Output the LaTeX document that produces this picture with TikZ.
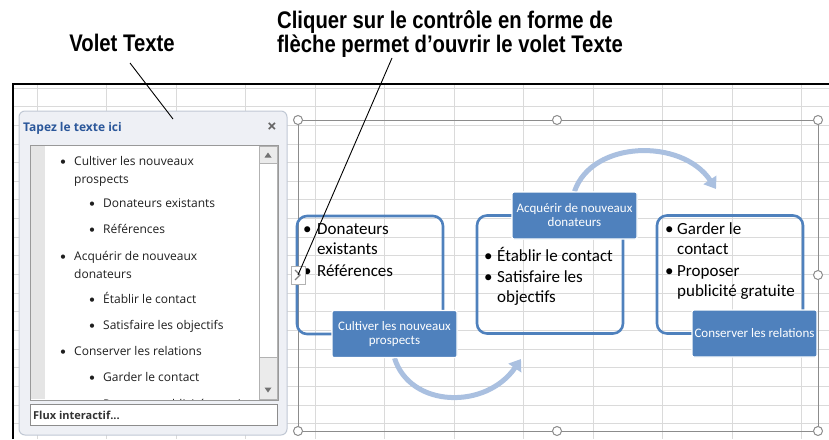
\documentclass[tikz,border=0pt]{standalone}
\usepackage{fontspec}
\setmainfont{Carlito}
\newfontfamily\panefont{Open Sans}
\newfontfamily\callfont[FakeStretch=0.845]{Liberation Sans Bold}
\usetikzlibrary{arrows.meta}
\definecolor{smartblue}{RGB}{79,129,189}
\definecolor{arrowblue}{RGB}{170,192,224}
\definecolor{gridgray}{RGB}{218,218,218}
\definecolor{panebg}{RGB}{238,240,245}
\definecolor{paneedge}{RGB}{192,200,212}
\definecolor{titleblue}{RGB}{43,87,154}
\definecolor{framegray}{RGB}{140,140,140}
\newcommand{\itemmark}[1]{\makebox[#1][l]{\rmfamily\textbullet}}

\begin{document}
\begin{tikzpicture}[x=1pt, y=-1pt,
    gridline/.style={draw=gridgray, line width=0.9pt},
    pointer/.style={draw=black, line width=0.9pt},
    callout/.style={font=\callfont\fontsize{24}{24}\selectfont, inner sep=0pt},
    paneitem/.style={anchor=base west, align=left, inner sep=0pt, text=black!88, font=\panefont\fontsize{12}{18}\selectfont},
    cadre/.style={draw=smartblue, line width=2.6pt, rounded corners=10pt, minimum width=146pt, minimum height=118pt},
    etiquette/.style={fill=smartblue, draw=white, line width=1.2pt, rounded corners=2pt, minimum width=125pt, minimum height=47pt, inner sep=1pt, text=white, align=center, font=\fontsize{13}{14}\selectfont},
    puce/.style={anchor=base west, align=left, inner sep=0pt, font=\fontsize{17}{20}\selectfont},
    cyclearrow/.style={draw=arrowblue, line width=5pt, -{Triangle[length=11pt, width=15pt]}},
    handle/.style={draw=framegray, fill=white, line width=1pt}]
  \useasboundingbox (0,0) rectangle (829,439);

  % feuille de calcul
  \foreach \i in {0,...,11} \draw[gridline] (37+69.5*\i,84) -- (37+69.5*\i,439);
  \foreach \j in {0,...,18} \draw[gridline] (13,88+18.65*\j) -- (829,88+18.65*\j);
  \draw[line width=1.4pt] (13,439) -- (13,84) -- (829,84);

  % volet Texte
  \draw[fill=panebg, draw=paneedge, line width=1pt, rounded corners=6pt] (19,111) rectangle (287,435);
  \node[anchor=west, inner sep=0pt, text=titleblue, font=\panefont\bfseries\fontsize{12}{12}\selectfont] (titre) at (23,128) {Tapez le texte ici};
  \node[text=black!60, font=\panefont\bfseries\fontsize{17}{17}\selectfont] (fermer) at (272,128) {×};
  \draw[fill=white, draw=black!40] (30,145) rectangle (278,400);
  \fill[black!10] (31,146) rectangle (45,399);
  \draw[fill=black!8, draw=black!30] (259,146) rectangle (277,399);
  \draw[fill=white, draw=black!30] (259,163) rectangle (277,357);
  \fill[black!55] (264.5,157.5) -- (271.5,157.5) -- (268,152.5) -- cycle;
  \fill[black!55] (264.5,387.5) -- (271.5,387.5) -- (268,392.5) -- cycle;
  \node[paneitem] (p1) at (60,183) {\itemmark{14pt}Cultiver les nouveaux\\\hspace*{14pt}prospects};
  \node[paneitem] (p2) at (89,207) {\itemmark{14pt}Donateurs existants};
  \node[paneitem] (p3) at (89,233) {\itemmark{14pt}Références};
  \node[paneitem] (p4) at (60,278) {\itemmark{14pt}Acquérir de nouveaux\\\hspace*{14pt}donateurs};
  \node[paneitem] (p5) at (89,303) {\itemmark{14pt}Établir le contact};
  \node[paneitem] (p6) at (89,329) {\itemmark{14pt}Satisfaire les objectifs};
  \node[paneitem] (p7) at (60,355) {\itemmark{14pt}Conserver les relations};
  \node[paneitem] (p8) at (89,381) {\itemmark{14pt}Garder le contact};
  \begin{scope}
    \clip (31,146) rectangle (258,399);
    \node[paneitem] (p9) at (89,408) {\itemmark{14pt}Proposer publicité gratuite};
  \end{scope}
  \draw[fill=white, draw=black!45] (30,404) rectangle (277,425);
  \node[anchor=west, inner sep=0pt, text=black!80, font=\panefont\bfseries\fontsize{11}{11}\selectfont] (flux) at (33,415) {Flux interactif...};

  % cadre de selection
  \draw[framegray, line width=0.9pt] (298,120) rectangle (818,431);

  % fleches du cycle
  \node[etiquette] (et1) at (394.5,334) {Cultiver les nouveaux\\prospects};
  \node[etiquette] (et2) at (574.5,215.5) {Acquérir de nouveaux\\donateurs};
  \coordinate (a1end) at (521,359);
  \coordinate (a2end) at (716,189);
  \draw[cyclearrow] (et1.south) .. controls (410,408) and (486,410) .. (a1end);
  \draw[cyclearrow] (et2.north) .. controls (592,140) and (682,138) .. (a2end);

  % formes
  \node[cadre] (cadre1) at (370,275) {};
  \node[cadre] (cadre2) at (550,274.5) {};
  \node[cadre] (cadre3) at (730,274.5) {};
  \node[puce] (t1) at (303,254) {\itemmark{14pt}Donateurs\\\hspace*{14pt}existants};
  \node[puce] (t2) at (303,276) {\itemmark{14pt}Références};
  \node[puce] (t3) at (484,261) {\itemmark{13pt}Établir le contact};
  \node[puce] (t4) at (484,302) {\itemmark{13pt}Satisfaire les\\\hspace*{13pt}objectifs};
  \node[puce] (t5) at (665,254) {\itemmark{12pt}Garder le\\\hspace*{12pt}contact};
  \node[puce] (t6) at (665,296) {\itemmark{12pt}Proposer\\\hspace*{12pt}publicité gratuite};
  \node[etiquette] at (394.5,334) {Cultiver les nouveaux\\prospects};
  \node[etiquette] at (574.5,215.5) {Acquérir de nouveaux\\donateurs};
  \node[etiquette] (et3) at (754.5,333.5) {Conserver les relations};

  % poignees
  \foreach \p in {(298,120),(557,120),(818,120),(818,275),(298,431),(557,431),(818,431)}
    \draw[handle] \p circle (4.5pt);
  \node[draw=black!30, fill=white, minimum width=14pt, minimum height=18pt, inner sep=0pt] (bascule) at (298,275) {};
  \draw[black!50, line width=1.3pt] (295,270) -- (300,275) -- (295,280);

  % legendes
  \node[callout, anchor=base] (volet) at (122,51) {Volet Texte};
  \node[callout, anchor=west, align=left] (controle) at (277,34) {Cliquer sur le contrôle en forme de\\flèche permet d’ouvrir le volet Texte};
  \coordinate (voletpin) at (130,63);
  \coordinate (voletend) at (173,119);
  \coordinate (controlepin) at (392,58);
  \draw[pointer] (voletpin) -- (voletend);
  \draw[pointer] (controlepin) -- (bascule.center);
\end{tikzpicture}
\end{document}
